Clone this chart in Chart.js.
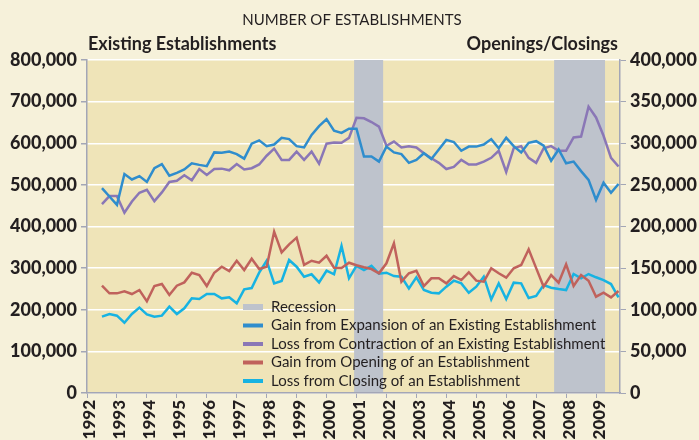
<!DOCTYPE html>
<html>
<head>
<meta charset="utf-8">
<script src="https://cdn.jsdelivr.net/npm/chart.js@4.4.1/dist/chart.umd.min.js"></script>
<style>
    html, body { margin: 0; padding: 0; background: #f6f1da; }
</style>
</head>
<body>
<canvas id="chart" width="699" height="440"></canvas>
<script>
// quarterly data, 1992 Q3 .. 2009 Q4 (70 quarters)
const firstQuarter = 1992.5;

// existing establishments (left axis)
const expansion = [
    492000, 472000, 452000, 526000, 513000, 521000, 507000, 540000, 550000, 522000,
    529000, 537000, 552000, 548000, 545000, 578000, 577000, 580000, 574000, 563000,
    599000, 607000, 593000, 597000, 613000, 610000, 593000, 590000, 620000, 641000,
    658000, 630000, 625000, 635000, 635000, 568000, 568000, 556000, 592000, 578000,
    574000, 553000, 560000, 576000, 562000, 585000, 608000, 603000, 582000, 592000,
    592000, 597000, 610000, 588000, 613000, 593000, 578000, 601000, 605000, 594000,
    558000, 585000, 552000, 556000, 533000, 512000, 464000, 505000, 481000, 502000
];
const contraction = [
    454000, 473000, 473000, 433000, 460000, 481000, 488000, 461000, 482000, 507000,
    510000, 523000, 511000, 538000, 524000, 538000, 539000, 535000, 550000, 537000,
    540000, 549000, 570000, 587000, 560000, 560000, 580000, 560000, 580000, 551000,
    599000, 602000, 601000, 613000, 661000, 660000, 651000, 640000, 594000, 604000,
    590000, 593000, 590000, 576000, 564000, 553000, 538000, 543000, 560000, 549000,
    549000, 556000, 565000, 582000, 531000, 588000, 593000, 565000, 553000, 588000,
    593000, 582000, 582000, 614000, 616000, 688000, 662000, 618000, 565000, 544000
];

// openings / closings (right axis)
const openings = [
    128900, 119700, 119700, 122100, 118900, 123700, 110100, 128500, 130900, 117700,
    128900, 132900, 144500, 141700, 128500, 144500, 151700, 146500, 158900, 147700,
    161300, 148900, 151700, 193800, 169000, 178600, 186600, 153800, 158900, 156500,
    164900, 150500, 150100, 156500, 153400, 151000, 148900, 143800, 155800, 179800,
    133700, 143800, 146900, 128500, 137800, 137800, 131800, 140500, 135700, 145000,
    134900, 133700, 149800, 143800, 138500, 149800, 153800, 172600, 150000, 127700,
    141700, 132500, 154600, 128500, 141700, 134900, 115700, 120500, 114900, 122500
];
const closings = [
    91700, 94900, 92900, 84400, 94900, 102500, 94500, 91700, 92900, 103700,
    94900, 101700, 113700, 112900, 118900, 118900, 113700, 114900, 107700, 124500,
    126100, 144500, 158900, 131700, 134500, 159800, 151700, 139700, 142600, 132900,
    146900, 142600, 176600, 137800, 152800, 147700, 152800, 143300, 144500, 140500,
    139700, 125700, 139000, 123700, 120500, 119700, 127700, 134900, 131700, 120500,
    127700, 139700, 112500, 131700, 112900, 132500, 131700, 114100, 116500, 129700,
    126500, 124900, 123700, 142900, 137800, 142900, 139000, 135700, 130900, 114900
];

// recession periods, in years
const recessions = [[2000.92, 2001.89], [2007.6, 2009.3]];

const seriesLabels = [
    'Gain from Expansion of an Existing Establishment',
    'Loss from Contraction of an Existing Establishment',
    'Gain from Opening of an Establishment',
    'Loss from Closing of an Establishment'
];
const seriesColors = ['#2f8dcd', '#8a77b6', '#c0625c', '#17b3e2'];

const PAGE_BG = '#f6f1da';
const PLOT_BG = '#efe4b8';
const BAND = '#bec3cc';
const AXIS = '#a3a6b6';
const TEXT = '#231f20';
const FONT = 'Lato, "Open Sans", sans-serif';

function toPoints(values) {
    return values.map((v, i) => ({ x: firstQuarter + i * 0.25, y: v }));
}

// backgrounds + recession bands
const backdrop = {
    id: 'backdrop',
    beforeDraw(chart) {
        const { ctx, chartArea: a } = chart;
        ctx.save();
        ctx.fillStyle = PAGE_BG;
        ctx.fillRect(0, 0, chart.width, chart.height);
        ctx.fillStyle = PLOT_BG;
        ctx.fillRect(a.left, a.top, a.right - a.left, a.bottom - a.top);
        ctx.restore();
    },
    beforeDatasetsDraw(chart) {
        const { ctx, chartArea: a } = chart;
        const x = chart.scales.x;
        ctx.save();
        ctx.fillStyle = BAND;
        recessions.forEach(([s, e]) => {
            const x0 = x.getPixelForValue(s);
            const x1 = x.getPixelForValue(e);
            ctx.fillRect(x0, a.top, x1 - x0, a.bottom - a.top - 1);
        });
        ctx.restore();
    }
};

// titles + legend inside the plot area
const annotations = {
    id: 'annotations',
    afterDatasetsDraw(chart) {
        const { ctx, chartArea: a } = chart;
        ctx.save();
        ctx.fillStyle = TEXT;
        ctx.textBaseline = 'alphabetic';

        ctx.font = '15px ' + FONT;
        ctx.textAlign = 'center';
        ctx.fillText('NUMBER OF ESTABLISHMENTS', 352, 25);

        ctx.font = 'bold 18px ' + FONT;
        ctx.textAlign = 'left';
        ctx.fillText('Existing Establishments', a.left + 1, 50);
        ctx.textAlign = 'right';
        ctx.fillText('Openings/Closings', a.right - 2, 50);

        // legend
        const lx = a.left + 156;
        let ly = a.top + 247;
        const step = 18.5;
        ctx.font = '15px ' + FONT;
        ctx.textAlign = 'left';
        ctx.textBaseline = 'middle';

        ctx.fillStyle = BAND;
        ctx.fillRect(lx, ly - 3, 20, 6);
        ctx.fillStyle = TEXT;
        ctx.fillText('Recession', lx + 28, ly);

        seriesLabels.forEach((label, i) => {
            ly += step;
            ctx.strokeStyle = seriesColors[i];
            ctx.lineWidth = 4;
            ctx.beginPath();
            ctx.moveTo(lx, ly);
            ctx.lineTo(lx + 20, ly);
            ctx.stroke();
            ctx.fillStyle = TEXT;
            ctx.fillText(label, lx + 28, ly);
        });
        ctx.restore();
    }
};

const lineStyle = (i, axis, values) => ({
    label: seriesLabels[i],
    data: toPoints(values),
    yAxisID: axis,
    borderColor: seriesColors[i],
    backgroundColor: seriesColors[i],
    borderWidth: 2.5,
    pointRadius: 0,
    tension: 0,
    fill: false
});

const fmt = v => v.toLocaleString('en-US');

new Chart(document.getElementById('chart'), {
    type: 'line',
    data: {
        datasets: [
            lineStyle(0, 'y', expansion),
            lineStyle(1, 'y', contraction),
            lineStyle(2, 'y1', openings),
            lineStyle(3, 'y1', closings)
        ]
    },
    options: {
        responsive: false,
        animation: false,
        layout: { padding: { top: 60, left: 0, right: 0, bottom: 0 } },
        plugins: {
            legend: { display: false },
            title: { display: false },
            tooltip: { enabled: false }
        },
        scales: {
            x: {
                type: 'linear',
                min: 1992,
                max: 2009.8,
                afterFit: s => { s.height = 47; },
                border: { display: true, color: AXIS, width: 1.5 },
                grid: { display: true, drawOnChartArea: false, drawTicks: true, tickLength: 5, color: AXIS },
                ticks: {
                    stepSize: 1,
                    includeBounds: false,
                    autoSkip: false,
                    maxRotation: 90,
                    minRotation: 90,
                    padding: 2,
                    labelOffset: 3,
                    color: TEXT,
                    font: { family: FONT, size: 17, weight: '900' },
                    callback: v => Number.isInteger(v) ? String(v) : ''
                }
            },
            y: {
                position: 'left',
                min: 0,
                max: 800000,
                afterFit: s => { s.width = 87; },
                border: { display: true, color: AXIS, width: 1.5 },
                grid: { color: '#ffffff', lineWidth: 1.5, tickColor: AXIS, tickLength: 6 },
                ticks: {
                    stepSize: 100000,
                    padding: 4,
                    color: TEXT,
                    font: { family: FONT, size: 18, weight: '900' },
                    callback: fmt
                }
            },
            y1: {
                position: 'right',
                min: 0,
                max: 400000,
                afterFit: s => { s.width = 79; },
                border: { display: true, color: AXIS, width: 1.5 },
                grid: { drawOnChartArea: false, color: AXIS, tickLength: 6 },
                ticks: {
                    stepSize: 50000,
                    padding: 4,
                    color: TEXT,
                    font: { family: FONT, size: 18, weight: '900' },
                    callback: fmt
                }
            }
        }
    },
    plugins: [backdrop, annotations]
});
</script>
</body>
</html>
